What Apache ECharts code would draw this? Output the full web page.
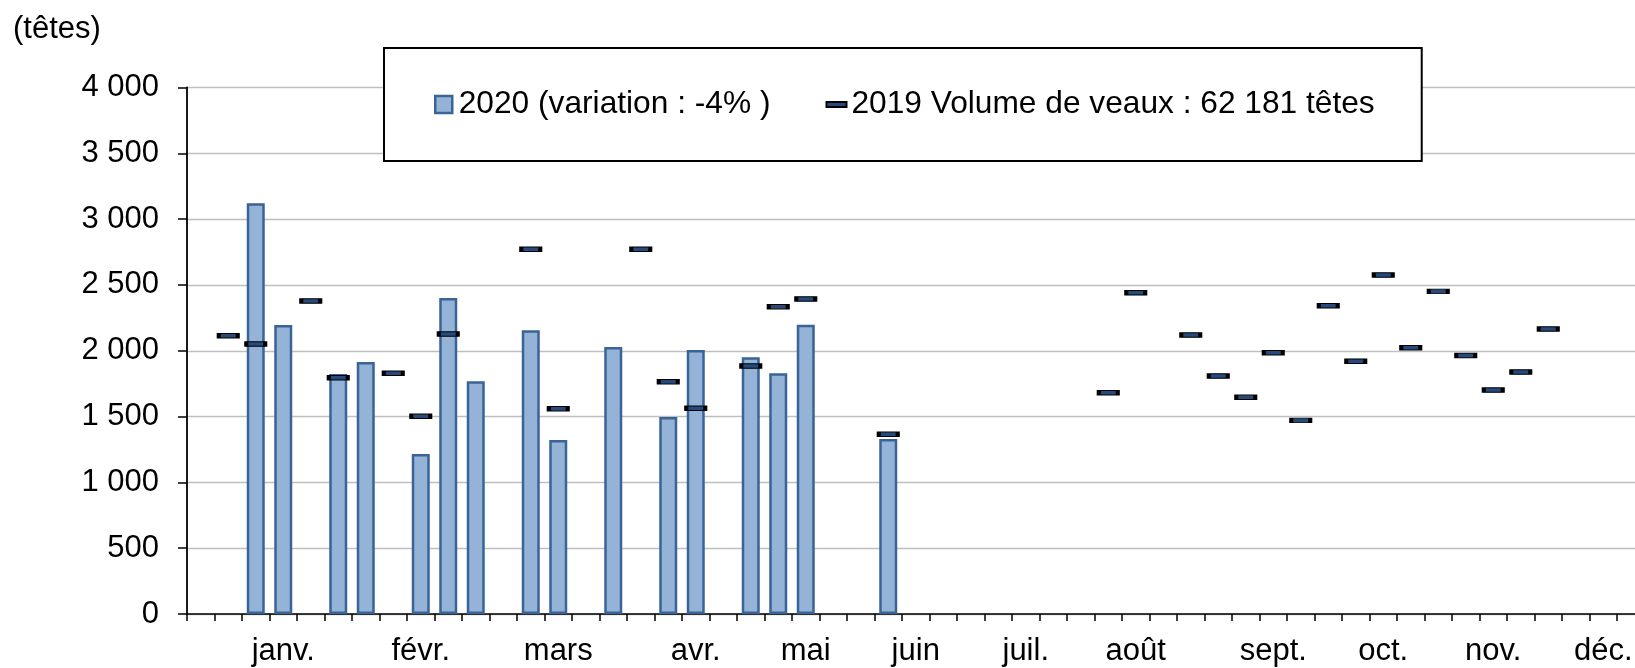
<!DOCTYPE html>
<html>
<head>
<meta charset="utf-8">
<script src="https://cdn.jsdelivr.net/npm/echarts@6/dist/echarts.min.js"></script>
<style>
html,body{margin:0;padding:0;background:#fff;overflow:hidden;}
#chart{width:1635px;height:668px;}
</style>
</head>
<body>
<div id="chart"></div>
<script>
// Weekly categories (53 weeks); month label placed on its mid-month week
const weekLabels = ['', '', '', 'janv.', '', '', '', '', 'févr.', '', '', '', '', 'mars', '', '', '', '', 'avr.', '', '', '', 'mai', '', '', '', 'juin', '', '', '', 'juil.', '', '', '', 'août', '', '', '', '', 'sept.', '', '', '', 'oct.', '', '', '', 'nov.', '', '', '', 'déc.', ''];

// 2020 weekly volumes (bars)
const values2020 = [null, null, 3120, 2195, null, 1823, 1914, null, 1216, 2401, 1768, null, 2155, 1322, null, 2028, null, 1497, 2006, null, 1950, 1829, 2198, null, null, 1330,
  null, null, null, null, null, null, null, null, null, null, null, null, null, null, null, null, null, null, null, null, null, null, null, null, null, null, null];

// 2019 weekly volumes (dash markers)
const values2019 = [null, 2114, 2051, null, 2378, 1795, null, 1829, 1502, 2127, null, null, 2771, 1560, null, null, 2771, 1765, 1563, null, 1884, 2335, 2393, null, null, 1365,
  null, null, null, null, null, null, null, 1681, 2440, null, 2119, 1808, 1646, 1985, 1471, 2342, 1921, 2575, 2023, 2451, 1964, 1701, 1838, 2165, null, null, null];

const yTicks = {min: 0, max: 4000, interval: 500};
const name2020 = '2020 (variation : -4% )';
const name2019 = '2019 Volume de veaux : 62 181 têtes';
const unitLabel = '(têtes)';

const FONT = "'Liberation Sans', Arial, sans-serif";
const fmt = v => String(v).replace(/\B(?=(\d{3})+(?!\d))/g, ' ');

const chart = echarts.init(document.getElementById('chart'), null, {renderer: 'canvas'});
chart.setOption({
  animation: false,
  backgroundColor: '#ffffff',
  textStyle: {fontFamily: FONT, color: '#000'},
  title: {
    text: unitLabel,
    left: 8, top: 9,
    textStyle: {fontFamily: FONT, fontSize: 31, fontWeight: 'normal', color: '#000'}
  },
  legend: {
    left: 384, top: 48,
    orient: 'horizontal',
    padding: [40, 47, 40, 50],
    itemWidth: 20, itemHeight: 17,
    itemGap: 55,
    backgroundColor: '#ffffff',
    borderColor: '#000000',
    borderWidth: 2,
    selectedMode: false,
    symbolKeepAspect: true,
    textStyle: {fontFamily: FONT, fontSize: 31.7, color: '#000', lineHeight: 33},
    data: [
      {name: name2020, icon: 'path://M0,0H17V17H0Z',
        itemStyle: {color: '#95B3D7', borderColor: '#3A6397', borderWidth: 2.5}},
      {name: name2019, icon: 'path://M0,0H20V5H0Z',
        itemStyle: {color: '#254A7B', borderColor: '#000000', borderWidth: 2}}
    ]
  },
  grid: {left: 187, top: 87.5, width: 1457.5, height: 526.5, containLabel: false, outerBoundsMode: 'none'},
  xAxis: {
    type: 'category',
    data: weekLabels,
    boundaryGap: true,
    axisLine: {show: true, lineStyle: {color: '#000', width: 1.5}},
    axisTick: {show: true, interval: 0, length: 7, lineStyle: {color: '#000', width: 1.5}},
    axisLabel: {interval: 0, margin: 22, fontFamily: FONT, fontSize: 31, color: '#000'},
    splitLine: {show: false}
  },
  yAxis: {
    type: 'value',
    min: yTicks.min, max: yTicks.max, interval: yTicks.interval,
    axisLine: {show: true, lineStyle: {color: '#000', width: 1.8}},
    axisTick: {show: true, length: 9, lineStyle: {color: '#000', width: 1.5}},
    axisLabel: {margin: 28, fontFamily: FONT, fontSize: 31, color: '#000', formatter: fmt},
    splitLine: {show: true, lineStyle: {color: '#BFBFBF', width: 1.3}}
  },
  series: [
    {
      name: name2020,
      type: 'bar',
      data: values2020.map(v => v === null ? '-' : v),
      barWidth: 18,
      itemStyle: {color: '#95B3D7', borderColor: '#3A6397', borderWidth: 2.5},
      z: 2
    },
    {
      name: name2019,
      type: 'scatter',
      data: values2019.map(v => v === null ? '-' : v),
      symbol: 'rect',
      symbolSize: [19, 4.5],
      itemStyle: {color: '#254A7B', borderColor: '#000000', borderWidth: 2, opacity: 1},
      z: 3
    }
  ]
});
</script>
</body>
</html>
